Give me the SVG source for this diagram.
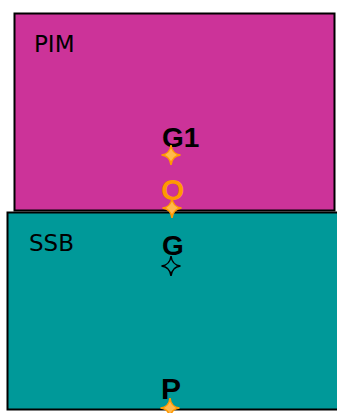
<svg xmlns="http://www.w3.org/2000/svg" xmlns:xlink="http://www.w3.org/1999/xlink" width="337" height="413" viewBox="0 0 337 413">
  <style>
    .region { stroke: #000; stroke-width: 2; }
    .pim { fill: #CC3399; }
    .ssb { fill: #009999; }
    .tag { font-family: "DejaVu Sans", "Liberation Sans", sans-serif; font-size: 23px; fill: #000; }
    .pt { font-family: "Liberation Sans", Arial, sans-serif; font-weight: bold; font-size: 28px; }
    .dark { fill: #000; }
    .amber { fill: #FF9900; }
    .star-amber { fill: #FFB84D; stroke: #FF9900; stroke-width: 1.5; }
    .star-dark { fill: #009999; stroke: #000; stroke-width: 1.5; }
  </style>
  <defs>
    <!-- four-pointed star marker -->
    <path id="star" d="M0,-10 Q1,-1 9.5,0 Q1,1 0,10 Q-1,1 -9.5,0 Q-1,-1 0,-10 Z"/>
  </defs>

  <g id="pim">
    <rect class="region pim" x="14.5" y="13.5" width="320" height="197"/>
    <text class="tag" x="34" y="52">PIM</text>
  </g>

  <g id="ssb">
    <rect class="region ssb" x="7.5" y="212.5" width="332" height="197"/>
    <text class="tag" x="29" y="251">SSB</text>
  </g>

  <g id="g1">
    <text class="pt dark" x="162" y="147">G1</text>
    <use xlink:href="#star" class="star-amber" x="171" y="155"/>
  </g>

  <g id="o">
    <text class="pt amber" x="161" y="200" style="font-size:30px">O</text>
    <use xlink:href="#star" class="star-amber" x="172" y="208"/>
  </g>

  <g id="g">
    <text class="pt dark" x="162" y="255">G</text>
    <use xlink:href="#star" class="star-dark" x="171" y="266"/>
  </g>

  <g id="p">
    <text class="pt dark" x="161" y="399" style="font-size:30px">P</text>
    <use xlink:href="#star" class="star-amber" x="170" y="408"/>
  </g>

  <g id="connectors"/>
</svg>
